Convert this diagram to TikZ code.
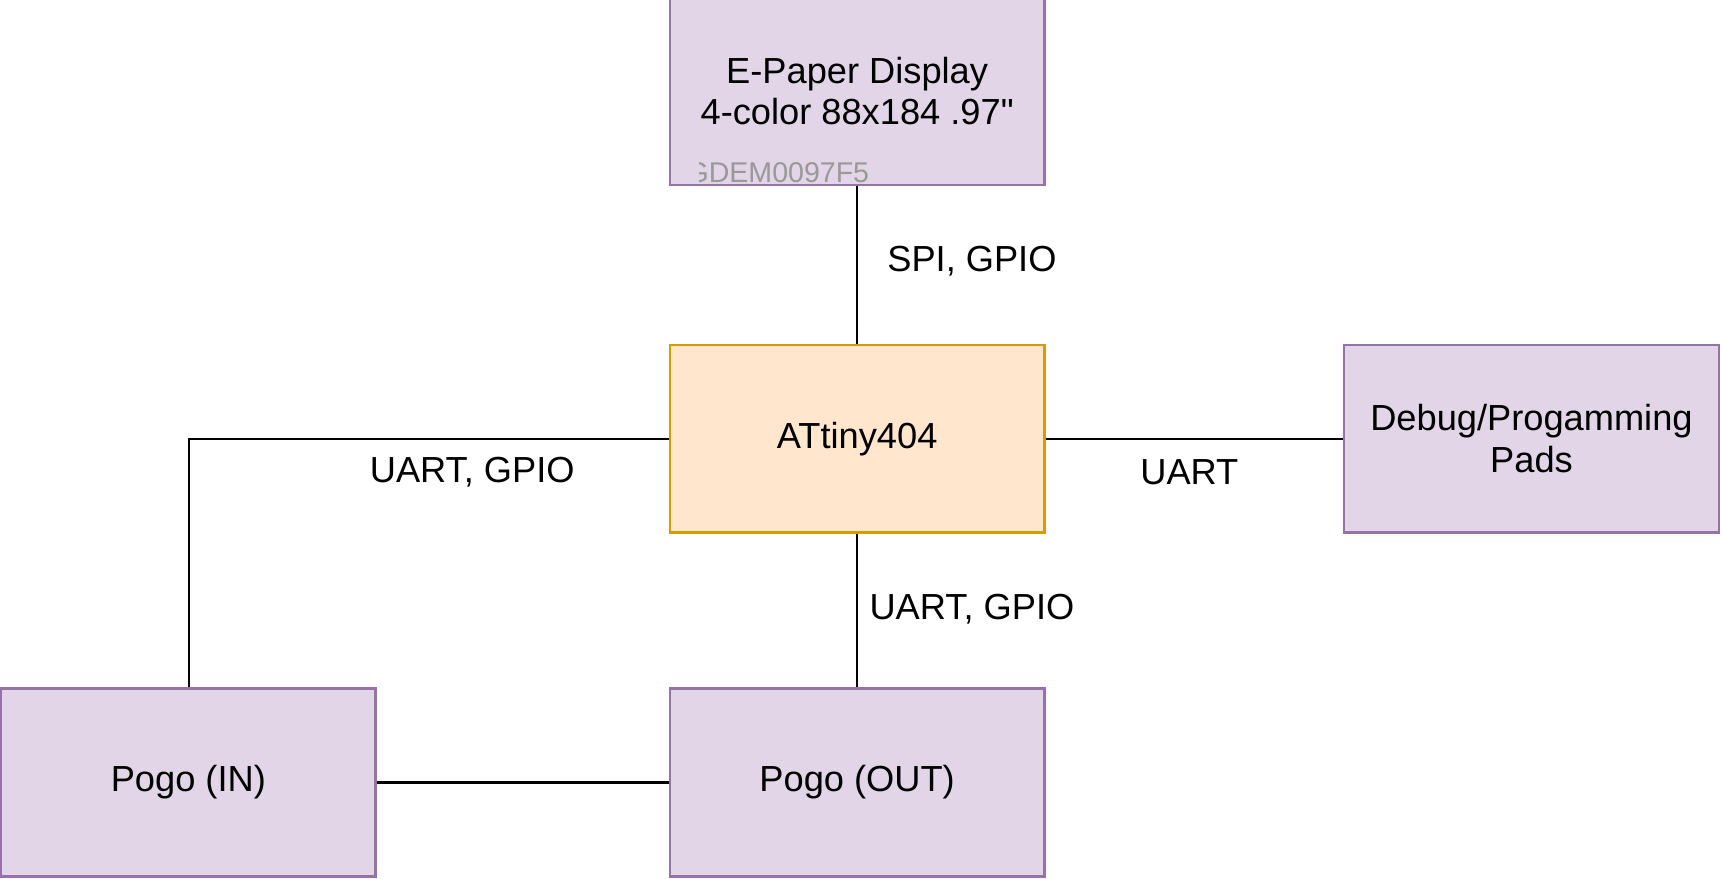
\documentclass[tikz,border=0pt]{standalone}
\usepackage{fontspec}
\setmainfont{Liberation Sans}
\definecolor{pbord}{HTML}{9673A6}
\definecolor{pfl}{HTML}{E1D5E7}
\definecolor{obord}{HTML}{D79B00}
\definecolor{ofl}{HTML}{FFE6CC}
\begin{document}
\begin{tikzpicture}[x=1pt,y=-1pt,
  box/.style={draw=pbord, fill=pfl, line width=2.2pt, minimum width=341pt, minimum height=171pt, inner sep=0pt, font=\fontsize{33}{38}\selectfont, align=center},
  chip/.style={box, draw=obord, fill=ofl},
  lab/.style={font=\fontsize{33}{38}\selectfont},
  wire/.style={line width=2.2pt}]
\useasboundingbox (0,0) rectangle (1568,800);
\node[box] (ep) at (780.5,83) {E-Paper Display\\4-color 88x184 .97\textquotedbl};
\node[chip] (at) at (780.5,399.5) {ATtiny404};
\node[box] (dbg) at (1394.5,399.5) {Debug/Progamming\\Pads};
\node[box] (pin) at (171.5,712.5) {Pogo (IN)};
\node[box] (pout) at (780.5,712.5) {Pogo (OUT)};
\begin{scope}
\clip (637,140) rectangle (900,170);
\node[anchor=base west, text=gray!80, font=\fontsize{26}{30}\selectfont, inner sep=0pt] (gd) at (625,166) {GDEM0097F5};
\end{scope}
\coordinate (c1) at (172,399.5);
\draw[wire] (ep) -- (at);
\draw[wire] (at.west) -- (c1) -- (pin.north -| c1);
\draw[wire] (at) -- (dbg);
\draw[wire] (at) -- (pout);
\draw[wire] (pin) -- (pout);
\node[lab] (l1) at (885,238) {SPI, GPIO};
\node[lab] (l2) at (430,430) {UART, GPIO};
\node[lab] (l3) at (1083,430) {UART};
\node[lab] (l4) at (885,555) {UART, GPIO};
\end{tikzpicture}
\end{document}
